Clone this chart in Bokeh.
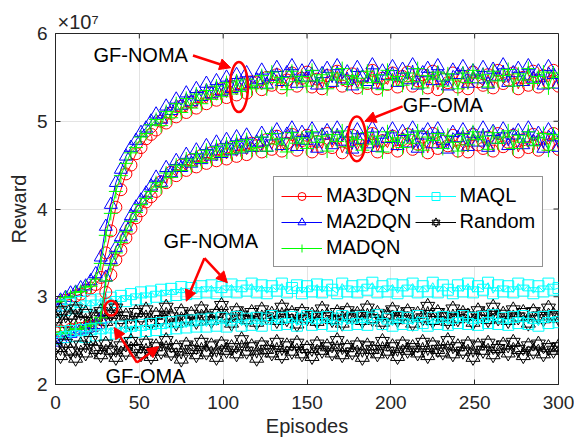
from bokeh.plotting import figure
from bokeh.models import (Range1d, Legend, LegendItem, Label, Arrow,
                          NormalHead, FixedTicker)
from bokeh.embed import file_html
from bokeh.resources import INLINE

# ---------------- data (reward in units of 1e7), one value every 3 episodes ----------------
episodes = list(range(0, 301, 3))

ma3dqn_noma = [2.9, 2.93, 2.96, 2.97, 3.01, 3.03, 3.07, 3.1, 3.14, 3.22,
               3.5, 3.75, 4.02, 4.22, 4.4, 4.5, 4.63, 4.7, 4.8, 4.85,
               4.9, 5.0, 4.98, 5.09, 5.05, 5.17, 5.1, 5.22, 5.15, 5.28,
               5.2, 5.33, 5.24, 5.37, 5.27, 5.4, 5.3, 5.43, 5.32, 5.45,
               5.44, 5.36, 5.5, 5.41, 5.53, 5.38, 5.47, 5.55, 5.4, 5.49,
               5.56, 5.39, 5.48, 5.37, 5.52, 5.45, 5.57, 5.4, 5.46, 5.54,
               5.38, 5.5, 5.43, 5.58, 5.37, 5.49, 5.42, 5.55, 5.39, 5.51,
               5.56, 5.4, 5.46, 5.53, 5.38, 5.57, 5.36, 5.48, 5.44, 5.55,
               5.39, 5.51, 5.37, 5.56, 5.45, 5.41, 5.53, 5.38, 5.58, 5.43,
               5.47, 5.55, 5.37, 5.5, 5.41, 5.57, 5.39, 5.52, 5.44, 5.58,
               5.4]
ma2dqn_noma = [2.88, 2.96, 2.99, 3.04, 3.05, 3.1, 3.12, 3.18, 3.26, 3.45,
               3.8, 4.05, 4.3, 4.45, 4.6, 4.7, 4.78, 4.87, 4.92, 5.0,
               5.08, 5.02, 5.17, 5.12, 5.25, 5.18, 5.32, 5.22, 5.37, 5.28,
               5.43, 5.31, 5.46, 5.34, 5.5, 5.37, 5.53, 5.4, 5.55, 5.43,
               5.47, 5.58, 5.42, 5.51, 5.61, 5.45, 5.55, 5.63, 5.43, 5.57,
               5.5, 5.62, 5.41, 5.54, 5.6, 5.44, 5.63, 5.48, 5.56, 5.4,
               5.61, 5.5, 5.45, 5.64, 5.42, 5.57, 5.52, 5.62, 5.44, 5.59,
               5.47, 5.64, 5.41, 5.55, 5.6, 5.46, 5.63, 5.5, 5.4, 5.58,
               5.53, 5.62, 5.43, 5.57, 5.48, 5.61, 5.42, 5.59, 5.51, 5.64,
               5.44, 5.55, 5.6, 5.45, 5.63, 5.49, 5.57, 5.41, 5.62, 5.53,
               5.42]
madqn_noma = [2.94, 2.95, 2.99, 3.0, 3.05, 3.06, 3.11, 3.12, 3.2, 3.38,
              3.7, 3.95, 4.2, 4.38, 4.52, 4.64, 4.7, 4.82, 4.86, 4.96,
              5.02, 4.95, 5.11, 5.04, 5.2, 5.1, 5.26, 5.15, 5.31, 5.2,
              5.35, 5.25, 5.4, 5.28, 5.44, 5.31, 5.46, 5.34, 5.48, 5.37,
              5.41, 5.52, 5.37, 5.56, 5.44, 5.5, 5.36, 5.57, 5.45, 5.51,
              5.4, 5.58, 5.46, 5.53, 5.37, 5.55, 5.47, 5.6, 5.42, 5.52,
              5.49, 5.38, 5.57, 5.44, 5.53, 5.36, 5.58, 5.47, 5.51, 5.41,
              5.55, 5.45, 5.6, 5.38, 5.52, 5.48, 5.56, 5.4, 5.54, 5.47,
              5.37, 5.55, 5.44, 5.58, 5.49, 5.53, 5.39, 5.57, 5.46, 5.52,
              5.59, 5.4, 5.54, 5.47, 5.6, 5.43, 5.51, 5.56, 5.38, 5.55,
              5.5]
maql_noma = [2.83, 2.9, 2.85, 2.92, 2.87, 2.94, 2.89, 2.96, 2.9, 2.97,
             2.92, 2.99, 2.94, 3.01, 2.95, 3.03, 2.97, 3.05, 2.98, 3.06,
             3.0, 3.08, 3.01, 3.09, 3.02, 3.11, 3.03, 3.1, 3.04, 3.12,
             3.05, 3.13, 3.04, 3.11, 3.06, 3.14, 3.05, 3.12, 3.07, 3.15,
             3.05, 3.13, 3.04, 3.12, 3.07, 3.15, 3.05, 3.1, 3.13, 3.04,
             3.12, 3.06, 3.14, 3.05, 3.13, 3.08, 3.04, 3.15, 3.06, 3.12,
             3.05, 3.13, 3.08, 3.16, 3.05, 3.12, 3.06, 3.14, 3.04, 3.13,
             3.07, 3.15, 3.05, 3.12, 3.06, 3.16, 3.05, 3.13, 3.08, 3.04,
             3.13, 3.06, 3.15, 3.05, 3.12, 3.08, 3.16, 3.04, 3.13, 3.06,
             3.12, 3.05, 3.15, 3.07, 3.13, 3.04, 3.12, 3.06, 3.15, 3.08,
             3.1]
random_noma = [2.75, 2.84, 2.7, 2.79, 2.86, 2.73, 2.81, 2.68, 2.77, 2.83,
               2.72, 2.8, 2.87, 2.74, 2.78, 2.69, 2.82, 2.76, 2.85, 2.71,
               2.79, 2.74, 2.88, 2.77, 2.7, 2.83, 2.75, 2.8, 2.72, 2.86,
               2.78, 2.73, 2.81, 2.9, 2.76, 2.7, 2.84, 2.79, 2.74, 2.82,
               2.71, 2.85, 2.77, 2.8, 2.73, 2.88, 2.75, 2.81, 2.69, 2.83,
               2.76, 2.79, 2.72, 2.86, 2.78, 2.74, 2.82, 2.7, 2.84, 2.77,
               2.8, 2.73, 2.87, 2.75, 2.81, 2.71, 2.79, 2.85, 2.74, 2.78,
               2.83, 2.7, 2.8, 2.76, 2.89, 2.73, 2.82, 2.77, 2.72, 2.86,
               2.75, 2.81, 2.78, 2.71, 2.84, 2.79, 2.74, 2.88, 2.76, 2.8,
               2.73, 2.85, 2.77, 2.82, 2.7, 2.83, 2.78, 2.75, 2.87, 2.79,
               2.76]

ma3dqn_oma = [2.59, 2.61, 2.6, 2.63, 2.62, 2.64, 2.65, 2.66, 2.67, 2.7,
              3.05, 3.25, 3.42, 3.53, 3.67, 3.78, 3.9, 3.98, 4.08, 4.14,
              4.2, 4.31, 4.3, 4.42, 4.38, 4.5, 4.44, 4.56, 4.48, 4.61,
              4.52, 4.64, 4.55, 4.68, 4.57, 4.7, 4.6, 4.73, 4.62, 4.75,
              4.72, 4.65, 4.79, 4.68, 4.83, 4.66, 4.75, 4.85, 4.67, 4.78,
              4.84, 4.65, 4.77, 4.69, 4.86, 4.7, 4.81, 4.64, 4.76, 4.84,
              4.67, 4.8, 4.71, 4.86, 4.65, 4.78, 4.7, 4.83, 4.66, 4.79,
              4.85, 4.68, 4.74, 4.82, 4.64, 4.86, 4.69, 4.77, 4.72, 4.84,
              4.66, 4.8, 4.65, 4.85, 4.73, 4.69, 4.82, 4.66, 4.86, 4.71,
              4.76, 4.84, 4.65, 4.79, 4.7, 4.85, 4.67, 4.81, 4.73, 4.86,
              4.68]
ma2dqn_oma = [2.48, 2.52, 2.55, 2.58, 2.6, 2.62, 2.63, 2.65, 2.68, 2.74,
              3.22, 3.42, 3.56, 3.68, 3.8, 3.92, 4.02, 4.1, 4.18, 4.26,
              4.36, 4.3, 4.47, 4.41, 4.55, 4.47, 4.62, 4.52, 4.67, 4.56,
              4.72, 4.6, 4.76, 4.63, 4.79, 4.66, 4.82, 4.68, 4.84, 4.7,
              4.76, 4.86, 4.7, 4.83, 4.9, 4.72, 4.85, 4.92, 4.71, 4.87,
              4.78, 4.91, 4.69, 4.84, 4.89, 4.73, 4.92, 4.77, 4.86, 4.68,
              4.9, 4.79, 4.74, 4.92, 4.7, 4.85, 4.8, 4.91, 4.72, 4.88,
              4.75, 4.92, 4.69, 4.84, 4.9, 4.74, 4.91, 4.78, 4.68, 4.87,
              4.81, 4.9, 4.71, 4.86, 4.76, 4.92, 4.7, 4.88, 4.79, 4.91,
              4.72, 4.84, 4.89, 4.73, 4.92, 4.77, 4.86, 4.69, 4.9, 4.82,
              4.7]
madqn_oma = [2.57, 2.6, 2.58, 2.62, 2.64, 2.63, 2.66, 2.68, 2.7, 2.76,
             3.18, 3.36, 3.5, 3.62, 3.74, 3.86, 3.96, 4.05, 4.12, 4.2,
             4.3, 4.25, 4.41, 4.36, 4.5, 4.44, 4.57, 4.49, 4.63, 4.53,
             4.67, 4.57, 4.71, 4.6, 4.74, 4.63, 4.77, 4.65, 4.79, 4.67,
             4.7, 4.82, 4.66, 4.86, 4.74, 4.8, 4.65, 4.87, 4.75, 4.81,
             4.69, 4.88, 4.76, 4.83, 4.66, 4.85, 4.77, 4.89, 4.71, 4.82,
             4.79, 4.67, 4.87, 4.74, 4.83, 4.65, 4.88, 4.77, 4.81, 4.7,
             4.85, 4.75, 4.89, 4.67, 4.82, 4.78, 4.86, 4.69, 4.84, 4.76,
             4.66, 4.85, 4.73, 4.88, 4.79, 4.83, 4.68, 4.87, 4.75, 4.82,
             4.89, 4.69, 4.84, 4.76, 4.88, 4.72, 4.81, 4.86, 4.67, 4.85,
             4.8]
maql_oma = [2.52, 2.6, 2.54, 2.61, 2.55, 2.62, 2.54, 2.63, 2.56, 2.64,
            2.57, 2.65, 2.58, 2.66, 2.59, 2.67, 2.6, 2.68, 2.61, 2.69,
            2.62, 2.7, 2.63, 2.71, 2.64, 2.72, 2.65, 2.73, 2.66, 2.74,
            2.66, 2.75, 2.67, 2.76, 2.66, 2.74, 2.77, 2.67, 2.75, 2.68,
            2.76, 2.67, 2.75, 2.78, 2.68, 2.76, 2.69, 2.77, 2.67, 2.75,
            2.78, 2.68, 2.76, 2.69, 2.77, 2.67, 2.75, 2.78, 2.68, 2.76,
            2.69, 2.77, 2.68, 2.76, 2.79, 2.69, 2.75, 2.67, 2.77, 2.69,
            2.76, 2.68, 2.78, 2.7, 2.67, 2.76, 2.69, 2.77, 2.68, 2.76,
            2.7, 2.78, 2.69, 2.76, 2.68, 2.77, 2.7, 2.79, 2.69, 2.76,
            2.68, 2.77, 2.7, 2.78, 2.69, 2.76, 2.67, 2.77, 2.7, 2.78,
            2.71]
random_oma = [2.42, 2.33, 2.47, 2.38, 2.3, 2.45, 2.36, 2.5, 2.4, 2.34,
              2.46, 2.39, 2.31, 2.44, 2.37, 2.49, 2.41, 2.35, 2.47, 2.32,
              2.43, 2.38, 2.5, 2.36, 2.42, 2.29, 2.45, 2.4, 2.34, 2.48,
              2.37, 2.44, 2.31, 2.46, 2.39, 2.42, 2.35, 2.51, 2.38, 2.43,
              2.3, 2.45, 2.4, 2.36, 2.48, 2.33, 2.44, 2.38, 2.47, 2.35,
              2.41, 2.32, 2.46, 2.39, 2.43, 2.36, 2.5, 2.34, 2.42, 2.37,
              2.45, 2.31, 2.44, 2.4, 2.35, 2.49, 2.38, 2.43, 2.32, 2.46,
              2.39, 2.42, 2.36, 2.48, 2.33, 2.45, 2.4, 2.37, 2.5, 2.35,
              2.43, 2.38, 2.46, 2.31, 2.44, 2.39, 2.47, 2.34, 2.41, 2.45,
              2.36, 2.48, 2.4, 2.33, 2.44, 2.38, 2.46, 2.35, 2.42, 2.39,
              2.43]

x_ticks = [0, 50, 100, 150, 200, 250, 300]
y_ticks = [2, 3, 4, 5, 6]
X_MIN, X_MAX, Y_MIN, Y_MAX = 0, 300, 2, 6

FONT = "Liberation Sans"
TXT = "#262626"

# ---------------- figure ----------------
p = figure(width=574, height=439, output_backend="svg", toolbar_location=None,
           x_range=Range1d(X_MIN, X_MAX), y_range=Range1d(Y_MIN, Y_MAX),
           min_border_left=55, min_border_right=16, min_border_top=33,
           min_border_bottom=52)
p.title.text = "×10⁷"
p.title.align = "left"
p.title.offset = 2
p.title.standoff = 1
p.title.text_font = FONT
p.title.text_font_size = "20px"
p.title.text_font_style = "normal"
p.title.text_color = TXT

p.background_fill_color = "white"
p.outline_line_color = TXT
p.outline_line_width = 1
p.outline_line_alpha = 1
p.grid.grid_line_color = "#e3e3e3"
p.xgrid.ticker = FixedTicker(ticks=x_ticks)
p.ygrid.ticker = FixedTicker(ticks=y_ticks)

for ax, ticks in ((p.xaxis[0], x_ticks), (p.yaxis[0], y_ticks)):
    ax.ticker = FixedTicker(ticks=ticks)
    ax.major_tick_in = 5
    ax.major_tick_out = 0
    ax.minor_tick_line_color = None
    ax.axis_line_color = TXT
    ax.major_tick_line_color = TXT
    ax.major_label_text_font = FONT
    ax.major_label_text_font_size = "19px"
    ax.major_label_text_color = TXT
    ax.axis_label_text_font = FONT
    ax.axis_label_text_font_size = "20px"
    ax.axis_label_text_font_style = "normal"
    ax.axis_label_text_color = TXT

p.xaxis.axis_label = "Episodes"
p.yaxis.axis_label = "Reward"
p.xaxis.major_label_standoff = 11
p.xaxis.axis_label_standoff = 3
p.yaxis.major_label_standoff = 8
p.yaxis.axis_label_standoff = 4

# inward ticks on the top and right edges of the box (MATLAB style)
tick_dy = 5 * (Y_MAX - Y_MIN) / 354.0
tick_dx = 5 * (X_MAX - X_MIN) / 503.0
p.segment(x0=x_ticks, y0=[Y_MAX] * len(x_ticks), x1=x_ticks,
          y1=[Y_MAX - tick_dy] * len(x_ticks), line_color=TXT, line_width=1)
p.segment(x0=[X_MAX] * len(y_ticks), y0=y_ticks, x1=[X_MAX - tick_dx] * len(y_ticks),
          y1=y_ticks, line_color=TXT, line_width=1)

# ---------------- series ----------------
series = [
    ("MA3DQN", "red", "circle", 12, ma3dqn_noma, ma3dqn_oma),
    ("MA2DQN", "blue", "triangle", 13, ma2dqn_noma, ma2dqn_oma),
    ("MADQN", "#00ff00", "cross", 14, madqn_noma, madqn_oma),
    ("MAQL", "cyan", "square", 11, maql_noma, maql_oma),
    ("Random", "black", "hexagram", 14, random_noma, random_oma),
]

legend_items = {}
for scen in (0, 1):
    for name, color, marker, size, noma, oma in series:
        vals = noma if scen == 0 else oma
        rs = [p.line(episodes, vals, line_color=color, line_width=1)]
        if marker == "hexagram":
            for m in ("triangle", "inverted_triangle"):
                rs.append(p.scatter(episodes, vals, marker=m, size=size,
                                    line_color=color, fill_alpha=0, line_width=1))
        else:
            rs.append(p.scatter(episodes, vals, marker=marker, size=size,
                                line_color=color, fill_alpha=0, line_width=1))
        if scen == 0:
            legend_items[name] = rs

order = ["MA3DQN", "MA2DQN", "MADQN", "MAQL", "Random"]
legend = Legend(items=[LegendItem(label=n, renderers=legend_items[n]) for n in order],
                location=(218, 117), nrows=3, orientation="vertical")
legend.label_text_font = FONT
legend.label_text_font_size = "20px"
legend.label_text_color = "black"
legend.glyph_width = 41
legend.glyph_height = 20
legend.label_standoff = 4
legend.spacing = 3
legend.padding = 7
legend.margin = 0
legend.border_line_color = TXT
legend.border_line_width = 1
legend.background_fill_alpha = 1
p.add_layout(legend)

# ---------------- annotations ----------------
RED = "red"
p.ellipse(x=[109.4, 179.7, 33.2], y=[5.39, 4.80, 2.87], width=[10.7, 10.7, 7.5],
          height=[0.57, 0.51, 0.17], fill_alpha=0, line_color=RED, line_width=2.5)

arrows = [((82, 5.75), (104.5, 5.61)),
          ((207, 5.17), (184.5, 5.0)),
          ((88.8, 3.44), (78, 2.95)),
          ((88.8, 3.44), (102.5, 3.16)),
          ((48.6, 2.25), (35, 2.65)),
          ((48.6, 2.25), (61.5, 2.43))]
for (xs, ys), (xe, ye) in arrows:
    p.add_layout(Arrow(x_start=xs, y_start=ys, x_end=xe, y_end=ye,
                       line_color=RED, line_width=2.5,
                       end=NormalHead(size=11, fill_color=RED, line_color=RED)))

texts = [("GF-NOMA", 50.8, 5.76), ("GF-OMA", 231, 5.18),
         ("GF-NOMA", 92.6, 3.64), ("GF-OMA", 53.7, 2.10)]
for t, x, y in texts:
    p.add_layout(Label(x=x, y=y, text=t, text_align="center", text_baseline="middle",
                       text_font=FONT, text_font_size="20px", text_color="black"))

open("out.html", "w").write(file_html(p, INLINE))
